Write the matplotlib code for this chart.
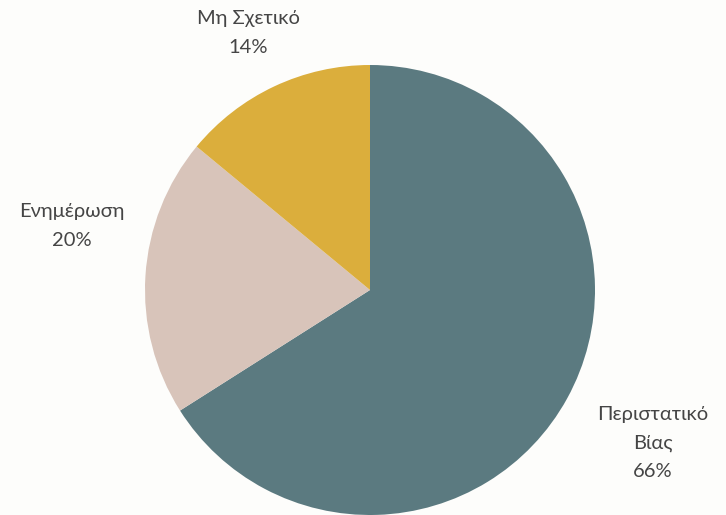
import matplotlib
matplotlib.use("Agg")
import matplotlib.pyplot as plt

categories = ["Περιστατικό\nΒίας", "Ενημέρωση", "Μη Σχετικό"]
values = [66, 20, 14]
colors = ["#5b7a80", "#d8c4ba", "#dbae3c"]

plt.rcParams['font.family'] = ['Lato', 'Open Sans', 'DejaVu Sans']

W, H = 726, 515
fig = plt.figure(figsize=(W / 100, H / 100), dpi=100, facecolor="#fdfdfb")
ax = fig.add_axes([0, 0, 1, 1])
ax.set_facecolor("#fdfdfb")

cx, cy, r = 370, H - 290, 225
ax.pie(values, colors=colors, startangle=90, counterclock=False,
       center=(cx, cy), radius=r, frame=True,
       wedgeprops=dict(linewidth=0))
ax.set_xlim(0, W)
ax.set_ylim(0, H)
ax.set_aspect("equal")
ax.axis("off")

label_pos = [(653, H - 443), (72, H - 226), (248, H - 33)]
for cat, val, (x, y) in zip(categories, values, label_pos):
    ax.text(x, y, f"{cat}\n{val}%", ha="center", va="center",
            fontsize=14.5, color="#454545", linespacing=1.8)

fig.savefig("out.png", dpi=100, facecolor=fig.get_facecolor())
